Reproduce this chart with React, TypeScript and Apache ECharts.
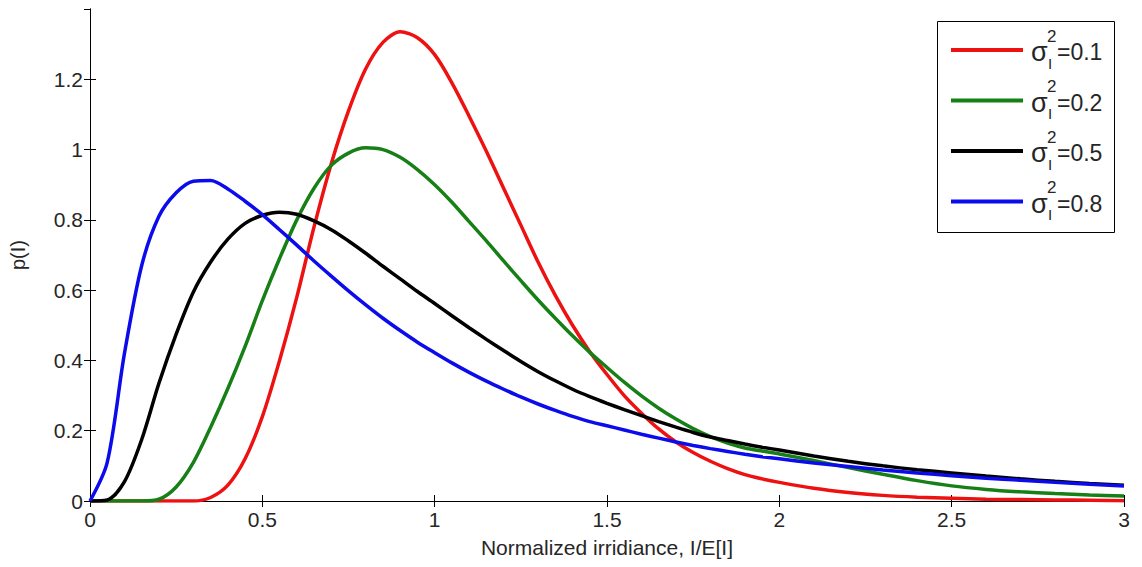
import React, { useEffect, useRef } from "react";
import * as echarts from "echarts";

const xValues = [
  0, 0.05, 0.1, 0.15, 0.2, 0.25, 0.3, 0.35, 0.4, 0.45, 0.5, 0.55, 0.6, 0.65,
  0.7, 0.75, 0.8, 0.85, 0.9, 0.95, 1.0, 1.05, 1.1, 1.15, 1.2, 1.25, 1.3, 1.35,
  1.4, 1.45, 1.5, 1.55, 1.6, 1.65, 1.7, 1.75, 1.8, 1.85, 1.9, 1.95, 2.0, 2.1,
  2.2, 2.3, 2.4, 2.5, 2.6, 2.7, 2.8, 2.9, 3.0,
];

const pdf01 = [
  0, 0, 0, 0, 0, 0, 0, 0.01, 0.045, 0.12, 0.24, 0.4, 0.58, 0.78, 0.96, 1.11,
  1.23, 1.305, 1.335, 1.318, 1.27, 1.19, 1.095, 0.995, 0.89, 0.785, 0.68,
  0.585, 0.5, 0.425, 0.36, 0.3, 0.25, 0.205, 0.168, 0.138, 0.113, 0.092, 0.075,
  0.063, 0.053, 0.036, 0.024, 0.016, 0.011, 0.008, 0.005, 0.004, 0.003, 0.002,
  0.001,
];
const pdf02 = [
  0, 0, 0, 0, 0.005, 0.04, 0.11, 0.21, 0.32, 0.44, 0.57, 0.69, 0.8, 0.89,
  0.955, 0.99, 1.005, 1.0, 0.978, 0.943, 0.9, 0.85, 0.795, 0.74, 0.683, 0.627,
  0.572, 0.52, 0.47, 0.423, 0.38, 0.338, 0.299, 0.264, 0.233, 0.206, 0.183,
  0.165, 0.151, 0.142, 0.134, 0.115, 0.095, 0.076, 0.058, 0.043, 0.033, 0.026,
  0.021, 0.017, 0.014,
];
const pdf05 = [
  0, 0.003, 0.055, 0.175, 0.335, 0.475, 0.595, 0.68, 0.745, 0.79, 0.813,
  0.822, 0.816, 0.797, 0.772, 0.74, 0.705, 0.668, 0.632, 0.596, 0.562, 0.527,
  0.493, 0.46, 0.428, 0.397, 0.368, 0.342, 0.318, 0.297, 0.278, 0.26, 0.243,
  0.226, 0.21, 0.195, 0.182, 0.172, 0.162, 0.153, 0.145, 0.128, 0.113, 0.1,
  0.089, 0.08, 0.071, 0.063, 0.056, 0.05, 0.045,
];
const pdf08 = [
  0, 0.11, 0.42, 0.67, 0.81, 0.877, 0.91, 0.912, 0.888, 0.853, 0.815, 0.772,
  0.728, 0.683, 0.64, 0.598, 0.558, 0.52, 0.485, 0.452, 0.422, 0.393, 0.366,
  0.341, 0.318, 0.296, 0.276, 0.258, 0.241, 0.226, 0.214, 0.202, 0.19, 0.179,
  0.168, 0.158, 0.149, 0.141, 0.133, 0.126, 0.12, 0.108, 0.098, 0.088, 0.08,
  0.072, 0.065, 0.059, 0.053, 0.048, 0.043,
];

const varianceLabels = ["0.1", "0.2", "0.5", "0.8"];
const seriesValues = [pdf01, pdf02, pdf05, pdf08];
const seriesColors = ["#ee1111", "#168016", "#000000", "#0b0bec"];

const xTicks = { min: 0, max: 3, interval: 0.5 };
const yTicks = { min: 0, max: 1.4, interval: 0.2 };

const FONT = "'Liberation Sans', Arial, Helvetica, sans-serif";
const TEXT = "#262626";

function txt(text: string, x: number, y: number, size: number) {
  return {
    type: "text",
    x,
    y,
    z: 101,
    style: {
      text,
      fill: TEXT,
      font: `${size}px ${FONT}`,
      align: "left",
      verticalAlign: "middle",
      textAlign: "left",
      textVerticalAlign: "middle",
    },
  };
}

export default function App() {
  const ref = useRef<HTMLDivElement>(null);

  useEffect(() => {
    document.body.style.margin = "0";
    if (!ref.current) return;
    const chart = echarts.init(ref.current, undefined, { renderer: "svg" });

    const series = seriesValues.map((vals, i) => ({
      name: "σI²=" + varianceLabels[i],
      type: "line",
      xAxisIndex: 0,
      yAxisIndex: 0,
      data: xValues.map((x, j) => [x, vals[j]]),
      showSymbol: false,
      symbol: "none",
      smooth: 0.3,
      lineStyle: { color: seriesColors[i], width: 3.5 },
      itemStyle: { color: seriesColors[i] },
      z: 2 + i,
    }));

    const lx = 937;
    const ly = 21;
    const rowGap = 50.5;
    const legendEls: any[] = [
      {
        type: "rect",
        shape: { x: lx + 0.5, y: ly + 0.5, width: 177, height: 211 },
        style: { fill: "#ffffff", stroke: "#000000", lineWidth: 1 },
        z: 100,
      },
    ];
    varianceLabels.forEach((lab, i) => {
      const cy = 50 + rowGap * i;
      legendEls.push({
        type: "line",
        shape: { x1: 951, y1: cy, x2: 1023, y2: cy },
        style: { stroke: seriesColors[i], lineWidth: 4 },
        z: 101,
      });
      legendEls.push(txt("σ", 1031, cy + 2, 27));
      legendEls.push(txt("2", 1047, cy - 14, 17));
      legendEls.push(txt("I", 1048, cy + 13, 15));
      legendEls.push(txt("=" + lab, 1057, cy + 2, 23));
    });

    const axisLine = { show: true, lineStyle: { color: "#000000", width: 1 } };
    const axisTick = {
      show: true,
      inside: true,
      length: 6,
      lineStyle: { color: "#000000", width: 1 },
    };

    chart.setOption({
      animation: false,
      backgroundColor: "#ffffff",
      grid: { left: 84, right: 18, top: 9, bottom: 66, containLabel: false },
      xAxis: [
        {
          type: "value",
          ...xTicks,
          position: "bottom",
          axisLine,
          axisTick,
          splitLine: { show: false },
          axisLabel: {
            color: TEXT,
            fontFamily: FONT,
            fontSize: 21,
            margin: 8,
          },
          name: "Normalized irridiance, I/E[I]",
          nameLocation: "middle",
          nameGap: 36,
          nameTextStyle: { color: TEXT, fontFamily: FONT, fontSize: 21 },
        },
        {
          type: "value",
          ...xTicks,
          position: "top",
          axisLine,
          axisTick,
          splitLine: { show: false },
          axisLabel: { show: false },
        },
      ],
      yAxis: [
        {
          type: "value",
          ...yTicks,
          position: "left",
          axisLine,
          axisTick,
          splitLine: { show: false },
          axisLabel: {
            color: TEXT,
            fontFamily: FONT,
            fontSize: 21,
            margin: 7,
            showMaxLabel: false,
          },
          name: "p(I)",
          nameLocation: "middle",
          nameGap: 62,
          nameRotate: 90,
          nameTextStyle: { color: TEXT, fontFamily: FONT, fontSize: 20 },
        },
        {
          type: "value",
          ...yTicks,
          position: "right",
          axisLine,
          axisTick,
          splitLine: { show: false },
          axisLabel: { show: false },
        },
      ],
      legend: { show: false },
      series,
      graphic: legendEls,
    });

    return () => chart.dispose();
  }, []);

  return <div ref={ref} style={{ width: 1142, height: 567 }} />;
}
